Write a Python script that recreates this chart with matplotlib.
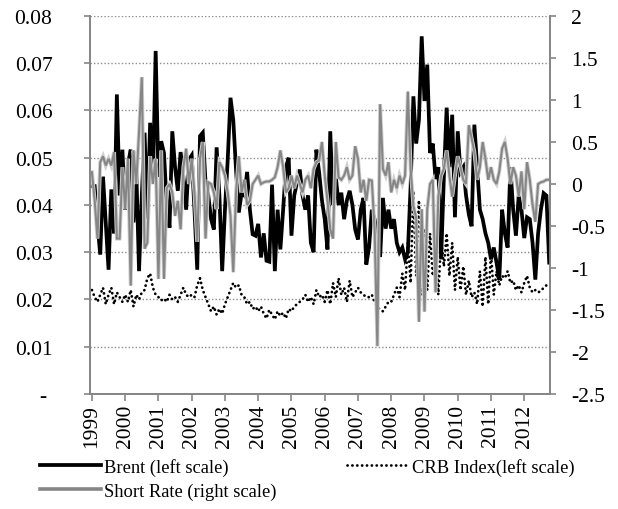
import numpy as np
import matplotlib
matplotlib.use("Agg")
import matplotlib.pyplot as plt
import matplotlib.patheffects as pe
from matplotlib.lines import Line2D

plt.rcParams['font.family'] = ['Liberation Serif', 'DejaVu Serif']

# monthly data, Jan 1999 .. Oct 2012 (166 months)
years = list(range(1999, 2013))

brent = [
    0.044, 0.044, 0.036, 0.0295, 0.046, 0.036, 0.0263, 0.0433, 0.034, 0.0634, 0.042, 0.0517,
    0.039, 0.0486, 0.0517, 0.0363, 0.0477, 0.026, 0.042, 0.0553, 0.037, 0.0574, 0.045, 0.0726,
    0.046, 0.0535, 0.051, 0.040, 0.0352, 0.0556, 0.048, 0.043, 0.0512, 0.046, 0.039, 0.0496,
    0.0505, 0.039, 0.0263, 0.0546, 0.0553, 0.0448, 0.042, 0.037, 0.0348, 0.0522, 0.042, 0.026,
    0.039, 0.0496, 0.0627, 0.058, 0.0475, 0.0384, 0.0425, 0.042, 0.047, 0.039, 0.0338, 0.0335,
    0.036, 0.0289, 0.034, 0.0282, 0.028, 0.0443, 0.026, 0.039, 0.0306, 0.039, 0.048, 0.050,
    0.0335, 0.042, 0.0448, 0.0475, 0.042, 0.039, 0.042, 0.032, 0.030, 0.0517, 0.0468, 0.041,
    0.037, 0.0306, 0.0556, 0.040, 0.046, 0.040, 0.0426, 0.037, 0.041, 0.043, 0.040, 0.0348,
    0.0327, 0.039, 0.0415, 0.0274, 0.031, 0.039, 0.037, 0.033, 0.029, 0.0415, 0.035, 0.039,
    0.035, 0.037, 0.032, 0.030, 0.031, 0.0285, 0.030, 0.044, 0.063, 0.053, 0.058, 0.0757,
    0.062, 0.0697, 0.051, 0.053, 0.0455, 0.048, 0.0285, 0.046, 0.0606, 0.048, 0.0591, 0.0374,
    0.0556, 0.047, 0.048, 0.042, 0.038, 0.0355, 0.057, 0.048, 0.039, 0.037, 0.034, 0.032,
    0.0285, 0.031, 0.0278, 0.0242, 0.039, 0.034, 0.031, 0.048, 0.039, 0.0335, 0.042, 0.039,
    0.033, 0.0374, 0.037, 0.032, 0.0242, 0.034, 0.039, 0.0425, 0.042, 0.0278,
]

crb = [
    0.022, 0.0205, 0.0195, 0.021, 0.0225, 0.019, 0.021, 0.0225, 0.019, 0.0215, 0.0205, 0.0195,
    0.021, 0.0195, 0.022, 0.0185, 0.021, 0.020, 0.0215, 0.022, 0.0245, 0.0255, 0.0225, 0.021,
    0.0205, 0.0198, 0.0202, 0.0195, 0.021, 0.020, 0.0205, 0.0195, 0.021, 0.0225, 0.021, 0.0205,
    0.021, 0.0205, 0.023, 0.0245, 0.022, 0.0205, 0.019, 0.0175, 0.0185, 0.0168, 0.018, 0.017,
    0.019, 0.0205, 0.022, 0.0235, 0.0225, 0.023, 0.021, 0.0205, 0.019, 0.0195, 0.018, 0.0185,
    0.0175, 0.0185, 0.017, 0.016, 0.0178, 0.0168, 0.0158, 0.0175, 0.0165, 0.0172, 0.016, 0.018,
    0.0175, 0.0185, 0.019, 0.0195, 0.020, 0.021, 0.0195, 0.0205, 0.019, 0.022, 0.0205, 0.021,
    0.0195, 0.022, 0.019, 0.0235, 0.0205, 0.0245, 0.021, 0.0225, 0.0195, 0.024, 0.0205, 0.0215,
    0.0225, 0.0215, 0.021, 0.0205, 0.0205, 0.021, 0.0195, 0.0185, 0.0178, 0.0175, 0.0185, 0.0195,
    0.0195, 0.021, 0.0225, 0.0205, 0.0255, 0.022, 0.032, 0.0235, 0.043, 0.025, 0.041, 0.021,
    0.035, 0.022, 0.034, 0.025, 0.031, 0.021, 0.033, 0.027, 0.034, 0.025, 0.032, 0.022,
    0.029, 0.022, 0.027, 0.021, 0.024, 0.0205, 0.0215, 0.019, 0.026, 0.0185, 0.029, 0.019,
    0.030, 0.021, 0.026, 0.023, 0.025, 0.0245, 0.026, 0.0235, 0.024, 0.022, 0.023, 0.0215,
    0.0235, 0.025, 0.0225, 0.0215, 0.022, 0.0215, 0.0218, 0.0225, 0.023, 0.0235,
]

short_rate = [
    0.14, -0.2, -0.65, 0.26, 0.33, 0.22, 0.3, 0.22, 0.38, -0.65, -0.65, 0.2,
    -0.3, 0.3, -1.21, 0.4, 0.0, 0.62, 1.27, -0.77, -0.7, 0.33, 0.0, 0.3,
    -1.13, 0.4, -1.13, -0.05, 0.0, -0.1, -0.38, -0.2, -0.54, 0.2, 0.42, 0.0,
    0.3, -0.1, -0.69, 0.3, 0.5, -0.65, 0.02, 0.0, -0.1, -0.3, 0.26, 0.2,
    0.1, -0.1, -0.38, -1.05, -0.1, 0.33, -0.1, 0.05, -0.25, -0.2, 0.0, 0.05,
    0.1, 0.0, 0.02, 0.03, 0.03, 0.05, 0.08, 0.2, 0.4, 0.2, -0.1, -0.05,
    0.1, -0.05, 0.1, 0.0, -0.1, 0.05, 0.1, -0.05, 0.18, 0.26, 0.28, 0.5,
    0.1, -0.2, -0.54, -0.65, 0.5, 0.08, 0.05, 0.1, 0.2, 0.05, 0.1, 0.45,
    0.3, -0.1, 0.05, -0.2, 0.05, 0.04, -0.54, -1.93, 0.95, 0.18, 0.1, 0.26,
    -0.1, 0.05, -0.05, 0.1, 0.0, 0.1, 1.1, 0.18, -0.26, -0.4, -1.64, -0.3,
    -1.52, -0.3, 0.0, 0.05, -1.29, -0.15, 0.1, 0.18, 0.4, 0.1, -0.15, 0.1,
    0.33, 0.2, 0.05, 0.0, 0.7, 0.55, 0.38, 0.05, 0.2, 0.5, 0.3, 0.05,
    0.2, 0.05, 0.0, 0.15, 0.42, 0.5, 0.3, 0.0, 0.2, 0.1, -0.15, 0.15,
    -0.3, 0.26, 0.05, -0.25, -0.45, 0.0, 0.02, 0.03, 0.05, 0.05,
]

left_ticks = [0, 0.01, 0.02, 0.03, 0.04, 0.05, 0.06, 0.07, 0.08]
left_labels = ['- ', '0.01', '0.02', '0.03', '0.04', '0.05', '0.06', '0.07', '0.08']
right_ticks = [-2.5, -2, -1.5, -1, -0.5, 0, 0.5, 1, 1.5, 2]
right_labels = ['-2.5', '-2', '-1.5', '-1', '-0.5', '0', '0.5', '1', '1.5', '2']

months = np.arange(len(brent))
axis_grey = '#868686'
crb_style = (0, (0.05, 1.7))

fig = plt.figure(figsize=(6.18, 5.10), dpi=100)
ax = fig.add_axes([0.1456, 0.2255, 0.7444, 0.7412])
ax2 = ax.twinx()

# left scale series
ax.plot(months, brent, color='black', lw=2.7, solid_joinstyle='miter', zorder=3)
ax.plot(months, crb, color='black', lw=2.0, linestyle=crb_style,
        dash_capstyle='round', zorder=4)

# short rate, grey with a pale outline
ax2.plot(months, short_rate, color='#868686', lw=1.5, solid_joinstyle='miter',
         path_effects=[pe.Stroke(linewidth=2.8, foreground='#d0d0d0'), pe.Normal()])

ax.set_xlim(-0.7, 165.3)
ax.set_ylim(0, 0.08)
ax2.set_ylim(-2.5, 2)

ax.set_yticks(left_ticks)
ax.set_yticklabels(left_labels, fontsize=15.5)
ax2.set_yticks(right_ticks)
ax2.set_yticklabels(right_labels, fontsize=15.5)

ax.set_xticks([12 * i for i in range(len(years))])
ax.set_xticklabels([str(y) for y in years], rotation=90, fontsize=15.5)

for g in left_ticks[1:]:
    ax.axhline(g, color='#8c8c8c', lw=1.0, linestyle=(0, (1, 1.5)), zorder=1)

for a in (ax, ax2):
    a.spines['top'].set_visible(False)
    for s in ('left', 'right', 'bottom'):
        a.spines[s].set_color(axis_grey)
        a.spines[s].set_linewidth(1.3)
    a.tick_params(axis='both', colors=axis_grey, labelcolor='black', length=4,
                  width=1.2, direction='out', pad=3)
ax.tick_params(axis='y', pad=23)
ax2.tick_params(axis='y', pad=11)
ax.tick_params(axis='x', length=5, pad=2)

handles = [
    Line2D([], [], color='black', lw=2.7),
    Line2D([], [], color='#868686', lw=2.6),
    Line2D([], [], color='black', lw=2.0, linestyle=crb_style, dash_capstyle='round'),
]
labels = ['Brent (left scale)', 'Short Rate (right scale)', 'CRB Index(left scale)']
fig.legend(handles, labels, loc='upper left', bbox_to_anchor=(0.064, 0.100), ncol=2,
           frameon=False, fontsize=13.3, handlelength=3.3, handletextpad=0.2,
           columnspacing=3.8, labelspacing=0.35, borderaxespad=0, borderpad=0)

fig.savefig('out.png', dpi=100)
